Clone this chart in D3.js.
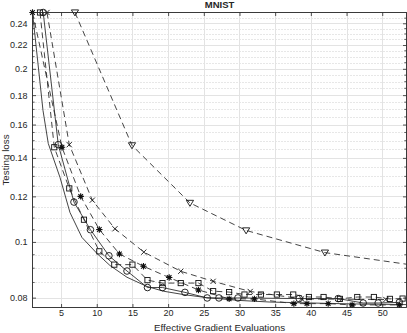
<!DOCTYPE html>
<html><head><meta charset="utf-8">
<script src="https://cdn.jsdelivr.net/npm/d3@7"></script>
<style>
body{margin:0;background:#fff}
svg{display:block}
text{font-family:"Liberation Sans",Arial,Helvetica,sans-serif;fill:#262626}
</style>
</head><body>
<svg id="chart" width="407" height="333"></svg>
<script>
// ---------- data ----------
const title = "MNIST";
const xLabel = "Effective Gradient Evaluations";
const yLabel = "Testing loss";
const xDomain = [1, 53.4];
const yDomain = [0.0769, 0.2506];
const xTicks = [5, 10, 15, 20, 25, 30, 35, 40, 45, 50];
const yTicks = [0.08, 0.1, 0.12, 0.14, 0.16, 0.18, 0.2, 0.22, 0.24];
const yTickLabels = ["0.08", "0.1", "0.12", "0.14", "0.16", "0.18", "0.2", "0.22", "0.24"];
const yMinorTicks = [0.085, 0.09, 0.095, 0.105, 0.11, 0.115, 0.125, 0.13, 0.135, 0.145, 0.15, 0.155,
  0.165, 0.17, 0.175, 0.185, 0.19, 0.195, 0.205, 0.21, 0.215, 0.225, 0.23, 0.235, 0.245];

// solid line, no markers
const plainX = [1, 2.47, 3.21, 4.85, 6.25, 7.93, 10.03, 11.85, 14.24, 17.0, 19.32, 22.12, 25.4, 30.06, 34.26, 40, 46, 53.4];
const plainY = [0.2506, 0.1693, 0.1483, 0.1295, 0.1125, 0.1018, 0.0955, 0.0910, 0.0868, 0.0837, 0.0821, 0.0810, 0.0800, 0.0791, 0.0786, 0.0783, 0.0780, 0.0778];
// solid line, circles
const circleX = [2.5, 4.61, 6.81, 9.12, 11.71, 14.24, 17.11, 19.21, 22.36, 25.48, 27.12, 29.78, 38.37, 43.83, 47.33, 49.43, 52.4];
const circleY = [0.2506, 0.1476, 0.1173, 0.1050, 0.0946, 0.0890, 0.0833, 0.0833, 0.0817, 0.0799, 0.0799, 0.0799, 0.0797, 0.0797, 0.0783, 0.0783, 0.0785];
// dashed, squares
const squareX = [2.05, 4.05, 6.15, 8.21, 10.36, 12.46, 15.0, 17.11, 19.21, 21.77, 24.25, 26.31, 28.55, 30.7, 33.0, 35.24, 37.53, 39.73, 41.78, 44.07, 46.5, 48.83, 51.07, 52.85];
const squareY = [0.2506, 0.1461, 0.1239, 0.1093, 0.0963, 0.0913, 0.0913, 0.0858, 0.0848, 0.0848, 0.0848, 0.0821, 0.0818, 0.0810, 0.0810, 0.0810, 0.0810, 0.0802, 0.0802, 0.0796, 0.0802, 0.0802, 0.0796, 0.0797];
// dashed, asterisks
const starX = [1, 5.13, 7.75, 10.36, 13.18, 16.55, 20.15, 24.25, 28.55, 32.09, 37.62, 39.45, 42.43, 45.78, 52.4];
const starY = [0.2506, 0.1461, 0.1200, 0.1051, 0.0953, 0.0907, 0.0867, 0.0825, 0.0796, 0.0796, 0.0781, 0.0781, 0.0781, 0.0777, 0.0777];
// dashed, crosses
const crossX = [3.03, 6.15, 9.38, 12.55, 16.6, 21.77, 26.31, 31.5, 38.7, 50.51];
const crossY = [0.2506, 0.1476, 0.1182, 0.1054, 0.0960, 0.0889, 0.0854, 0.0820, 0.0796, 0.0794];
// dashed, down triangles
const triX = [6.95, 14.94, 23.06, 30.93, 41.97, 56];
const triY = [0.2506, 0.1472, 0.1169, 0.1047, 0.0958, 0.0905];

const series = [
  {xs: plainX, ys: plainY, dash: null, marker: null},
  {xs: circleX, ys: circleY, dash: null, marker: "circle"},
  {xs: squareX, ys: squareY, dash: "6,4", marker: "square"},
  {xs: starX, ys: starY, dash: "6,4", marker: "star"},
  {xs: crossX, ys: crossY, dash: "6,4", marker: "cross"},
  {xs: triX, ys: triY, dash: "6,4", marker: "tri"}
];

// ---------- layout ----------
const L = 32.5, R = 406.5, T = 12.5, B = 307.5;
const ink = "#262626";
const svg = d3.select("#chart");
const x = d3.scaleLinear().domain(xDomain).range([L, R]);
const y = d3.scaleLog().domain(yDomain).range([B, T]);

svg.append("defs").append("clipPath").attr("id", "clip")
  .append("rect").attr("x", L).attr("y", T).attr("width", R - L).attr("height", B - T);

// grid
const grid = svg.append("g");
grid.selectAll(".ym").data(yMinorTicks).join("line")
  .attr("x1", L).attr("x2", R)
  .attr("y1", d => Math.round(y(d)) + 0.5).attr("y2", d => Math.round(y(d)) + 0.5)
  .attr("stroke", "#cfcfcf").attr("stroke-width", 1).attr("stroke-dasharray", "1,2");
grid.selectAll(".yM").data(yTicks).join("line")
  .attr("x1", L).attr("x2", R)
  .attr("y1", d => Math.round(y(d)) + 0.5).attr("y2", d => Math.round(y(d)) + 0.5)
  .attr("stroke", "#e3e3e3").attr("stroke-width", 1);
grid.selectAll(".xM").data(xTicks).join("line")
  .attr("y1", T).attr("y2", B)
  .attr("x1", d => Math.round(x(d)) + 0.5).attr("x2", d => Math.round(x(d)) + 0.5)
  .attr("stroke", "#e3e3e3").attr("stroke-width", 1);

// lines
const plot = svg.append("g");
const lineGen = d3.line().x(d => x(d[0])).y(d => y(d[1]));
series.forEach(s => {
  const pts = s.xs.map((v, i) => [v, s.ys[i]]);
  plot.append("path").datum(pts)
    .attr("d", lineGen)
    .attr("clip-path", "url(#clip)")
    .attr("fill", "none").attr("stroke", "#303030").attr("stroke-width", 0.9)
    .attr("stroke-dasharray", s.dash);
});

// markers
function drawMarker(g, type, cx, cy) {
  const st = {stroke: "#111", "stroke-width": 0.9, fill: "none"};
  const apply = (sel) => { Object.entries(st).forEach(([k, v]) => sel.attr(k, v)); return sel; };
  if (type === "circle") {
    apply(g.append("circle").attr("cx", cx).attr("cy", cy).attr("r", 3.3));
  } else if (type === "square") {
    apply(g.append("rect").attr("x", cx - 2.6).attr("y", cy - 2.6).attr("width", 5.2).attr("height", 5.2));
  } else if (type === "tri") {
    apply(g.append("path").attr("d", `M${cx-3.6},${cy-2.6}L${cx+3.6},${cy-2.6}L${cx},${cy+3.4}Z`));
  } else if (type === "cross") {
    apply(g.append("path").attr("d", `M${cx-2.6},${cy-2.6}L${cx+2.6},${cy+2.6}M${cx-2.6},${cy+2.6}L${cx+2.6},${cy-2.6}`));
  } else if (type === "star") {
    const r = 3.2, d = r * 0.72;
    g.append("path").attr("d",
      `M${cx},${cy-r}L${cx},${cy+r}M${cx-r},${cy}L${cx+r},${cy}M${cx-d},${cy-d}L${cx+d},${cy+d}M${cx-d},${cy+d}L${cx+d},${cy-d}`)
      .attr("stroke", "#111").attr("stroke-width", 1.1);
    g.append("circle").attr("cx", cx).attr("cy", cy).attr("r", 1.7).attr("fill", "#111");
  }
}
const mk = svg.append("g");
series.forEach(s => {
  if (!s.marker) return;
  s.xs.forEach((v, i) => {
    const yv = s.ys[i];
    if (v < xDomain[0] || v > xDomain[1] || yv < yDomain[0] || yv > yDomain[1] + 1e-9) return;
    drawMarker(mk, s.marker, x(v), y(yv));
  });
});

// axes box + ticks
const ax = svg.append("g");
const tk = 3.5, tkm = 2.2;
const bottomAxis = d3.axisBottom(x).tickValues(xTicks).tickSizeInner(-tk).tickSizeOuter(0).tickPadding(2);
const topAxis = d3.axisTop(x).tickValues(xTicks).tickSizeInner(-tk).tickSizeOuter(0).tickFormat("");
const leftAxis = d3.axisLeft(y).tickValues(yTicks).tickSizeInner(-tk).tickSizeOuter(0).tickPadding(5)
  .tickFormat((d, i) => yTickLabels[i]);
const rightAxis = d3.axisRight(y).tickValues(yTicks).tickSizeInner(-tk).tickSizeOuter(0).tickFormat("");

function style(g) {
  g.select(".domain").remove();
  g.selectAll("line").attr("stroke", ink).attr("stroke-width", 0.8);
  g.selectAll("text").attr("font-size", "9px").attr("fill", ink)
    .attr("font-family", '"Liberation Sans",Arial,sans-serif');
}
ax.append("g").attr("transform", `translate(0,${B})`).call(bottomAxis).call(style);
ax.append("g").attr("transform", `translate(0,${T})`).call(topAxis).call(style);
ax.append("g").attr("transform", `translate(${L},0)`).call(leftAxis).call(style);
ax.append("g").attr("transform", `translate(${R},0)`).call(rightAxis).call(style);

// minor y ticks both sides
ax.selectAll(".mtl").data(yMinorTicks).join("line")
  .attr("x1", L).attr("x2", L + tkm).attr("y1", d => y(d)).attr("y2", d => y(d))
  .attr("stroke", ink).attr("stroke-width", 0.7);
ax.selectAll(".mtr").data(yMinorTicks).join("line")
  .attr("x1", R).attr("x2", R - tkm).attr("y1", d => y(d)).attr("y2", d => y(d))
  .attr("stroke", ink).attr("stroke-width", 0.7);

ax.append("rect").attr("x", L).attr("y", T).attr("width", R - L).attr("height", B - T)
  .attr("fill", "none").attr("stroke", ink).attr("stroke-width", 0.9);

// labels
svg.append("text").attr("x", (L + R) / 2).attr("y", 7.8).attr("text-anchor", "middle")
  .attr("font-size", "9.5px").attr("font-weight", "bold").text(title);
svg.append("text").attr("x", (L + R) / 2).attr("y", 331.3).attr("text-anchor", "middle")
  .attr("font-size", "9.8px").text(xLabel);
svg.append("text").attr("transform", `translate(9.3,${(T + B) / 2}) rotate(-90)`)
  .attr("text-anchor", "middle").attr("font-size", "9.8px").text(yLabel);
</script>
</body></html>
